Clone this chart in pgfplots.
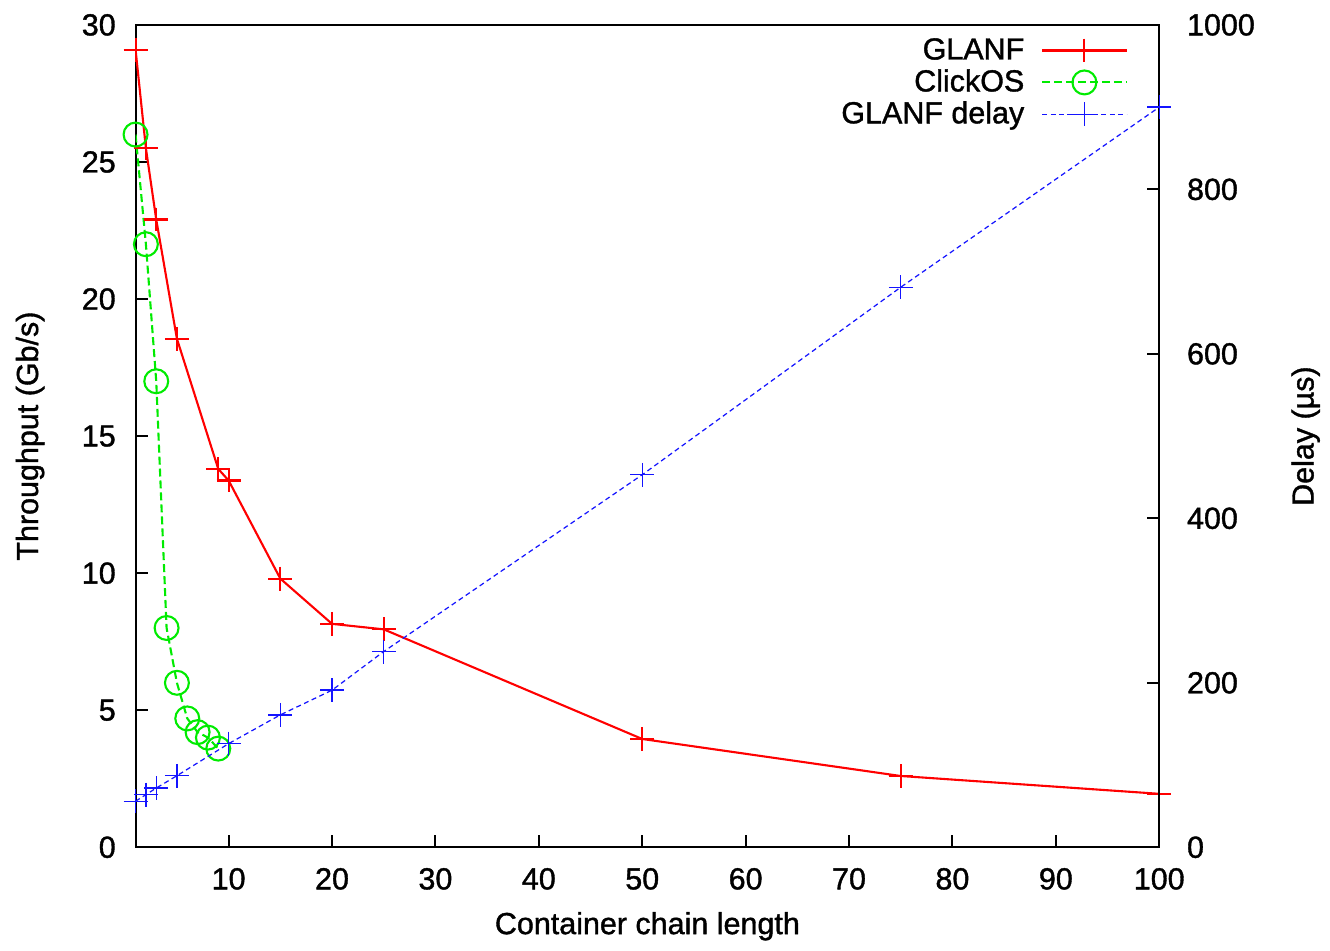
\documentclass[border=0pt]{standalone}
\usepackage{fontspec}
\setmainfont{Liberation Sans}[BoldFont={Liberation Sans}, BoldFeatures={FakeBold=1.2}]
\usepackage{pgfplots}
\pgfplotsset{compat=1.18}
\definecolor{gred}{RGB}{255,0,0}
\definecolor{ggreen}{RGB}{0,235,0}
\definecolor{gblue}{RGB}{20,20,255}
\newcommand{\chartfont}{\fontsize{8.7}{10.4}\selectfont\bfseries}
\pgfplotsset{
  every axis/.append style={
    scale only axis,
    width=10.27cm, height=8.25cm,
    xmin=1, xmax=100,
    axis line style={line width=0.6pt},
    every tick/.style={black, line width=0.6pt},
    major tick length=1.2mm,
    tick align=inside,
    tick label style={font=\chartfont},
    label style={font=\chartfont},
    /pgf/number format/assume math mode=true,
    /pgf/number format/1000 sep={},
  },
  glanf/.style={gred, line width=0.6pt, mark=+, mark size=1.2mm, mark options={solid, line width=0.6pt}},
  clickos/.style={ggreen, line width=0.6pt, dash pattern=on 0.8mm off 0.4mm, mark=o, mark size=1.2mm, mark options={solid, line width=0.6pt}},
  gdelay/.style={gblue, line width=0.35pt, dash pattern=on 0.5mm off 0.35mm, mark=+, mark size=1.2mm, mark options={solid, line width=0.4pt}},
}

\begin{document}
\chartfont
\begin{tikzpicture}
\begin{axis}[
  ymin=0, ymax=30,
  ytick={0,5,...,30},
  xtick={10,20,...,100},
  xtick pos=bottom,
  ytick pos=left,
  yticklabel style={xshift=-0.9mm},
  xticklabel style={yshift=-1.0mm},
  xlabel={Container chain length},
  ylabel={Throughput (Gb/s)},
  every axis x label/.style={at={(axis description cs:0.5,-0.096)}, anchor=center},
  every axis y label/.style={at={(axis description cs:-0.103,0.5)}, anchor=center, rotate=90},
]
\addplot[glanf] coordinates {
  (1,29.1) (2,25.5) (3,22.9) (5,18.55) (9,13.8) (10,13.38) (15,9.8)
  (20,8.15) (25,7.95) (50,3.95) (75,2.6) (100,1.95)
};
\addplot[clickos] coordinates {
  (1,26.0) (2,22.0) (3,17.0) (4,8.0) (5,6.0) (6,4.7) (7,4.2) (8,4.0) (9,3.6)
};
\end{axis}
\begin{axis}[
  ymin=0, ymax=1000,
  ytick={0,200,...,1000},
  axis x line=none,
  axis y line*=right,
  ytick pos=right,
  yticklabel style={xshift=1.7mm},
  ylabel={Delay (µs)},
  every axis y label/.style={at={(axis description cs:1.143,0.5)}, anchor=center, rotate=90},
  clip=false,
  legend style={
    at={(axis description cs:0.97,0.99)}, anchor=north east,
    draw=none, fill=none, inner sep=0pt,
    font=\chartfont,
    legend cell align=right,
    column sep=1.5mm,
    row sep=-0.15mm,
    nodes={inner sep=0.5pt, text height=2.4mm, text depth=0.6mm},
  },
  legend plot pos=right,
  legend image code/.code={
    \draw[mark repeat=2, mark phase=2, #1] plot coordinates {(0cm,0cm) (0.425cm,0cm) (0.85cm,0cm)};
  },
]
\addlegendimage{glanf}
\addlegendentry{GLANF}
\addlegendimage{clickos}
\addlegendentry{ClickOS}
\addplot[gdelay] coordinates {
  (1,56) (2,64) (3,72) (5,87) (10,126) (15,161) (20,191) (25,238)
  (50,453) (75,681) (100,900)
};
\addlegendentry{GLANF delay}
\path (rel axis cs:0,0) ++(-1.36cm,-0.94cm);
\path (rel axis cs:1,1) ++(1.67cm,0.25cm);
\end{axis}
\end{tikzpicture}
\end{document}
